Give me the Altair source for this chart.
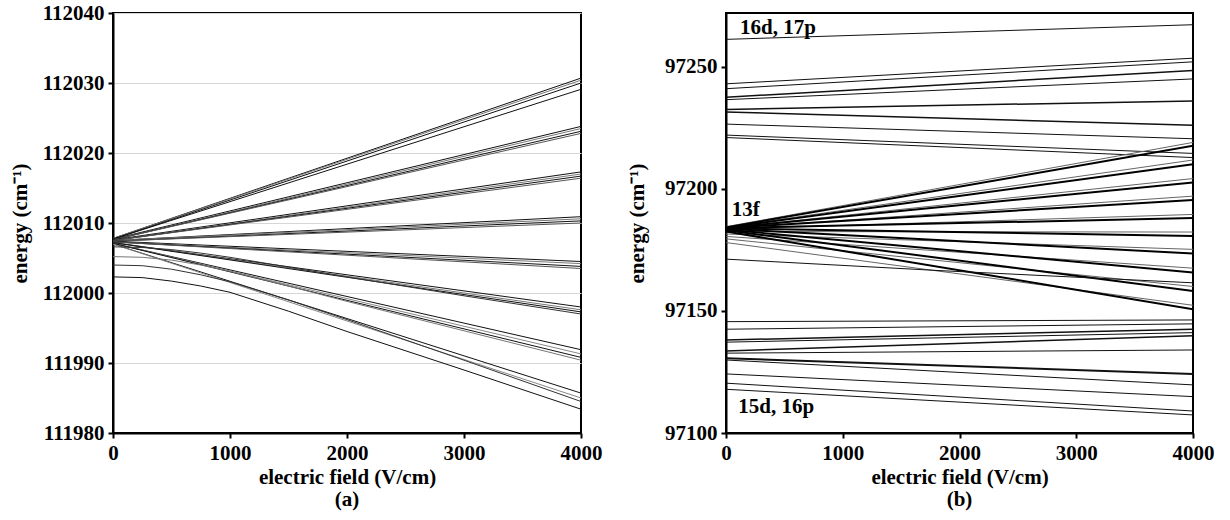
import altair as alt
import pandas as pd

FONT = "Liberation Serif"

# ---------------- Panel (a) data ----------------
A_FIELD_STRAIGHT = [0, 4000]
a_start = [112007.8, 112007.8, 112007.7, 112007.7,
           112007.7, 112007.6, 112007.6, 112007.6,
           112007.6, 112007.5, 112007.5, 112007.5,
           112007.5, 112007.5, 112007.4, 112007.4,
           112007.4, 112007.3, 112007.3, 112007.3,
           112007.2, 112007.2, 112007.2,
           112007.1, 112007.1, 112007.1,
           112007.0, 112007.0]
a_end = [112030.7, 112030.4, 112030.0, 112029.1,
         112023.8, 112023.5, 112023.1, 112022.8,
         112017.3, 112017.0, 112016.7, 112016.4,
         112010.9, 112010.6, 112010.3, 112010.0,
         112004.5, 112004.2, 112003.8, 112003.5,
         111998.0, 111997.6, 111997.3,
         111991.9, 111991.3, 111990.8,
         111985.7, 111985.0]
a_shade = ["#111111", "#777777", "#111111", "#111111",
           "#111111", "#777777", "#111111", "#555555",
           "#111111", "#777777", "#111111", "#555555",
           "#111111", "#777777", "#111111", "#555555",
           "#111111", "#777777", "#111111", "#555555",
           "#111111", "#777777", "#111111",
           "#111111", "#888888", "#111111",
           "#111111", "#888888"]

A_FIELD_CURVED = [0, 250, 500, 750, 1000, 1500, 2000, 3000, 4000]
a_curved = [
    [112002.3, 112002.2, 112001.7, 112001.0, 112000.1, 111997.4, 111994.5, 111989.0, 111983.4],
    [112004.0, 112003.9, 112003.4, 112002.6, 112001.6, 111999.0, 111996.2, 111990.4, 111984.5],
    [112005.2, 112005.1, 112004.7, 112004.0, 112003.1, 112001.0, 111998.8, 111994.6, 111990.4],
    [112006.6, 112006.5, 112006.2, 112005.7, 112005.1, 112003.7, 112002.3, 111999.6, 111997.0],
]
a_curved_shade = ["#111111", "#333333", "#777777", "#333333"]

A_Y_TICKS = [111980, 111990, 112000, 112010, 112020, 112030, 112040]
X_TICKS = [0, 1000, 2000, 3000, 4000]

# ---------------- Panel (b) data ----------------
B_FIELD_STRAIGHT = [0, 4000]
# 16d,17p top line + upper group
b_upper_start = [97261.2, 97243.0, 97241.0, 97237.5, 97236.5, 97232.5,
                 97231.5, 97226.5, 97222.0, 97221.0]
b_upper_end = [97267.2, 97253.5, 97252.0, 97248.5, 97245.0, 97236.0,
               97226.0, 97220.5, 97214.5, 97212.8]
b_upper_w = [1, 1, 1, 1.5, 1, 1.5, 1.5, 1, 1, 1]

# 13f fan, main (thick) lines
b_fan_start = [97184.2, 97184.1, 97184.0, 97184.0, 97183.9,
               97183.8, 97183.6, 97183.3, 97183.0, 97182.5]
b_fan_end = [97217.6, 97210.1, 97202.6, 97195.4, 97188.0,
             97180.7, 97173.5, 97165.7, 97158.2, 97150.7]
# companion (thin) fan lines
b_fan2_start = [97184.5, 97184.3, 97184.0, 97183.8, 97183.5,
                97182.5, 97181.5, 97180.5, 97179.5, 97178.0]
b_fan2_end = [97219.0, 97211.8, 97204.2, 97197.0, 97189.5,
              97182.3, 97175.2, 97167.5, 97160.0, 97152.3]

# isolated line below the fan
B_SINGLE_FIELD = [0, 1833, 4000]
b_single = [97171.2, 97166.5, 97161.5]

# 15d,16p lower group
b_lower_start = [97145.6, 97142.5, 97138.1, 97137.2, 97133.6, 97132.7,
                 97130.6, 97129.9, 97124.2, 97120.4, 97117.9]
b_lower_end = [97146.3, 97144.7, 97142.5, 97141.1, 97139.8, 97134.0,
               97124.2, 97119.7, 97114.9, 97109.0, 97107.4]
b_lower_w = [1, 1, 1.5, 1, 1.5, 1, 2, 1, 1, 1, 1]

B_Y_TICKS = [97100, 97150, 97200, 97250]

label_text = ["16d, 17p", "13f", "15d, 16p"]
label_field = [120, 50, 105]
label_energy = [97263.6, 97188.9, 97108.1]

# ---------------- Build long tables ----------------
rows_a = []
lid = 0
for s, e, c in zip(a_start, a_end, a_shade):
    for f, v in zip(A_FIELD_STRAIGHT, [s, e]):
        rows_a.append({"line": lid, "field": f, "energy": v, "shade": c, "w": 1})
    lid += 1
for vals, c in zip(a_curved, a_curved_shade):
    for f, v in zip(A_FIELD_CURVED, vals):
        rows_a.append({"line": lid, "field": f, "energy": v, "shade": c, "w": 1})
    lid += 1
df_a = pd.DataFrame(rows_a)

rows_b = []
lid = 0
def add_b(fields, vals, shade, w):
    global lid
    for f, v in zip(fields, vals):
        rows_b.append({"line": lid, "field": f, "energy": v, "shade": shade, "w": w})
    lid += 1

for s, e, w in zip(b_upper_start, b_upper_end, b_upper_w):
    add_b(B_FIELD_STRAIGHT, [s, e], "#111111", w)
for s, e in zip(b_fan2_start, b_fan2_end):
    add_b(B_FIELD_STRAIGHT, [s, e], "#666666", 1)
for s, e in zip(b_fan_start, b_fan_end):
    add_b(B_FIELD_STRAIGHT, [s, e], "#000000", 2)
add_b(B_SINGLE_FIELD, b_single, "#111111", 1)
for s, e, w in zip(b_lower_start, b_lower_end, b_lower_w):
    add_b(B_FIELD_STRAIGHT, [s, e], "#111111", w)
df_b = pd.DataFrame(rows_b)

df_lab = pd.DataFrame({"text": label_text, "field": label_field, "energy": label_energy})

# ---------------- Charts ----------------
def x_enc():
    return alt.X("field:Q",
                 scale=alt.Scale(domain=[0, 4000], nice=False),
                 axis=alt.Axis(values=X_TICKS, title="electric field (V/cm)", format="d",
                               grid=False, titlePadding=3))

TITLE_STYLE = dict(orient="bottom", font=FONT, fontSize=21, fontWeight="bold",
                   color="black", anchor="middle", offset=2)

chart_a = alt.Chart(df_a).mark_line(clip=True).encode(
    x=x_enc(),
    y=alt.Y("energy:Q",
            scale=alt.Scale(domain=[111980, 112040], nice=False, zero=False),
            axis=alt.Axis(values=A_Y_TICKS, title="energy (cm⁻¹)", format="d",
                          grid=True, gridColor="#d6d6d6", gridWidth=1, titlePadding=12)),
    detail="line:N",
    color=alt.Color("shade:N", scale=None),
    strokeWidth=alt.StrokeWidth("w:Q", scale=None),
).properties(width=468, height=420,
             title=alt.TitleParams("(a)", **TITLE_STYLE))

lines_b = alt.Chart(df_b).mark_line(clip=True).encode(
    x=x_enc(),
    y=alt.Y("energy:Q",
            scale=alt.Scale(domain=[97100, 97272], nice=False, zero=False),
            axis=alt.Axis(values=B_Y_TICKS, title="energy (cm⁻¹)", format="d", grid=False,
                          titlePadding=17)),
    detail="line:N",
    color=alt.Color("shade:N", scale=None),
    strokeWidth=alt.StrokeWidth("w:Q", scale=None),
)
labels_b = alt.Chart(df_lab).mark_text(
    align="left", baseline="alphabetic", font=FONT, fontSize=21,
    fontWeight="bold", color="black"
).encode(x="field:Q", y="energy:Q", text="text:N")

chart_b = alt.layer(lines_b, labels_b).properties(
    width=467, height=420, title=alt.TitleParams("(b)", **TITLE_STYLE))

chart = alt.hconcat(chart_a, chart_b, spacing=22).properties(
    padding={"left": 8, "top": 1, "right": 5, "bottom": 2}
).configure_view(
    stroke="black", strokeWidth=2
).configure_axis(
    labelFont=FONT, labelFontSize=21, labelFontWeight="bold", labelColor="black",
    titleFont=FONT, titleFontSize=21, titleFontWeight="bold", titleColor="black",
    domainColor="black", domainWidth=2, tickColor="black", tickWidth=2, tickSize=5,
    labelPadding=4
).configure_axisX(labelFlush=False).configure_axisY(labelFlush=False)

chart.save("out.html", embed_options={"renderer": "svg", "actions": False})
